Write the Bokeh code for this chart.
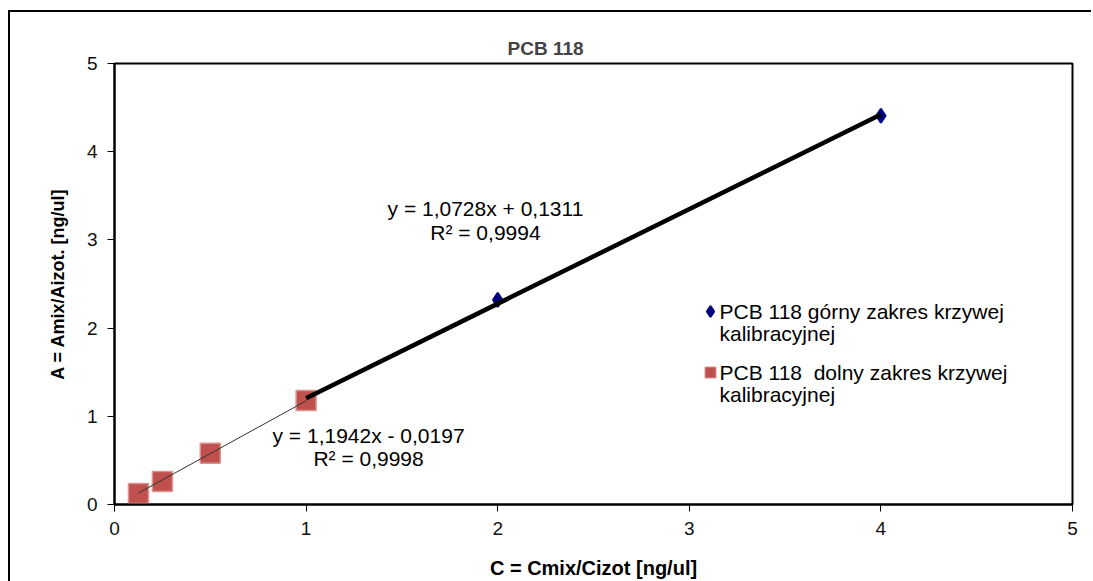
from bokeh.plotting import figure
from bokeh.models import Range1d, Label, FixedTicker, InlineStyleSheet
from bokeh.embed import file_html
from bokeh.resources import INLINE

# Calibration data: C = Cmix/Cizot [ng/ul], A = Amix/Aizot
upper_x = [1, 2, 4]
upper_y = [1.175, 2.32, 4.408]
lower_x = [0.125, 0.25, 0.5, 1]
lower_y = [0.125, 0.26, 0.58, 1.18]

# Linear fits (slope, intercept, R^2)
upper_fit = (1.0728, 0.1311, 0.9994)
lower_fit = (1.1942, -0.0197, 0.9998)

ticks = [0, 1, 2, 3, 4, 5]
title_text = "PCB 118"
x_title = "C = Cmix/Cizot [ng/ul]"
y_title = "A = Amix/Aizot. [ng/ul]"
upper_name = ["PCB 118 górny zakres krzywej", "kalibracyjnej"]
lower_name = ["PCB 118\u00a0 dolny zakres krzywej", "kalibracyjnej"]

FONT = "Liberation Sans"
UP_COLOR, UP_EDGE = "#000080", "#000080"
LO_COLOR, LO_EDGE = "#C0504D", "#D99594"

W, H = 1093, 581
BL, BR, BT, BB = 114, 21, 63, 77
FW, FH = W - BL - BR, H - BT - BB


def fmt(v, nd=4):
    return f"{abs(v):.{nd}f}".replace(".", ",")


def eq_text(fit):
    k, b, r2 = fit
    sign = "+" if b >= 0 else "-"
    return f"y = {fmt(k)}x {sign} {fmt(b)}", f"R² = {fmt(r2)}"


p = figure(width=W, height=H, output_backend="svg", toolbar_location=None,
           x_range=Range1d(0, 5), y_range=Range1d(0, 5),
           min_border_left=BL, min_border_right=BR,
           min_border_top=BT, min_border_bottom=BB)
p.background_fill_color = "white"
p.border_fill_color = "white"
p.outline_line_color = "black"
p.outline_line_width = 2
p.grid.visible = False

# frame-pixel ranges used for the legend keys
p.extra_x_ranges["px"] = Range1d(0, FW)
p.extra_y_ranges["px"] = Range1d(0, FH)

p.title.text = title_text
p.title.text_font = FONT
p.title.text_font_size = "19px"
p.title.text_font_style = "bold"
p.title.align = "left"
p.title.offset = 393
p.title.standoff = 9

for ax in (p.xaxis[0], p.yaxis[0]):
    ax.ticker = FixedTicker(ticks=ticks)
    ax.minor_tick_line_color = None
    ax.major_tick_in = 0
    ax.major_tick_out = 7
    ax.major_tick_line_color = "black"
    ax.major_tick_line_width = 1
    ax.axis_line_color = "black"
    ax.axis_line_width = 2
    ax.major_label_text_font = FONT
    ax.major_label_text_font_size = "19px"
    ax.major_label_text_color = "#111111"
    ax.axis_label_text_font = FONT
    ax.axis_label_text_font_style = "bold"
    ax.axis_label_text_color = "black"

p.xaxis.axis_label = x_title
p.yaxis.axis_label = y_title
p.xaxis.axis_label_text_font_size = "20px"
p.yaxis.axis_label_text_font_size = "18px"
p.xaxis.major_label_standoff = 10
p.yaxis.major_label_standoff = 10
p.xaxis.axis_label_standoff = 19
p.yaxis.axis_label_standoff = 16

# markers (upper range first, lower range drawn over it)
p.scatter(upper_x, upper_y, marker="diamond", size=14,
          fill_color=UP_COLOR, line_color=UP_EDGE, line_width=2)
p.scatter(lower_x, lower_y, marker="square", size=20,
          fill_color=LO_COLOR, line_color=LO_EDGE, line_width=1.5)

# trend lines over the range of each series
lx = [min(lower_x), max(lower_x)]
p.line(lx, [lower_fit[0] * v + lower_fit[1] for v in lx],
       line_color="#333333", line_width=1)
ux = [min(upper_x), max(upper_x)]
p.line(ux, [upper_fit[0] * v + upper_fit[1] for v in ux],
       line_color="black", line_width=4.5)


def text(x, y, s, **kw):
    opts = dict(text_font=FONT, text_font_size="21px", text_color="black",
                text_baseline="middle")
    opts.update(kw)
    p.add_layout(Label(x=x, y=y, text=s, **opts))


# fit equations
l1, l2 = eq_text(upper_fit)
text(1.936, 3.356, l1, text_align="center")
text(1.936, 3.084, l2, text_align="center")
l1, l2 = eq_text(lower_fit)
text(1.326, 0.782, l1, text_align="center")
text(1.326, 0.522, l2, text_align="center")

# legend (frame pixel coordinates, y measured up from the bottom)
LEG_KEY_X, LEG_TEXT_X = 596, 605
LEG_ROWS = [193, 132]
LINE_PITCH = 22
keys = [("diamond", 11, UP_COLOR, UP_EDGE, 2, upper_name),
        ("square", 11, LO_COLOR, LO_EDGE, 1, lower_name)]
for (mk, sz, fc, lc, lw, lines), ry in zip(keys, LEG_ROWS):
    p.scatter([LEG_KEY_X], [ry], marker=mk, size=sz, fill_color=fc,
              line_color=lc, line_width=lw,
              x_range_name="px", y_range_name="px")
    for i, s in enumerate(lines):
        text(LEG_TEXT_X, ry - i * LINE_PITCH, s, x_units="screen",
             y_units="screen", text_align="left")

# outer chart border (left and top edges)
p.stylesheets = [InlineStyleSheet(css="""
:host { position: relative; }
:host::after {
  content: ""; position: absolute; left: 8px; top: 10px;
  width: 1083px; height: 571px; box-sizing: border-box;
  border-left: 2.5px solid #000; border-top: 2.5px solid #000;
  pointer-events: none;
}
""")]

open("out.html", "w").write(file_html(p, INLINE))
